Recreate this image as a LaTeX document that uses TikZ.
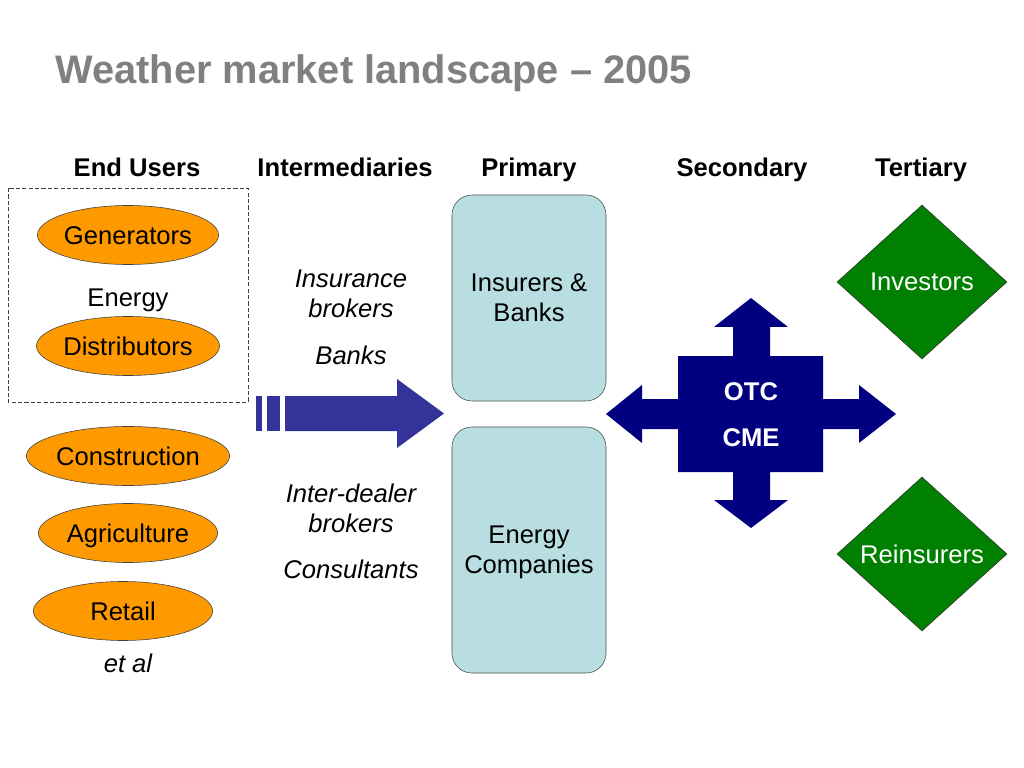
\documentclass[tikz,border=0pt]{standalone}
\usepackage{fontspec}
\setmainfont{Liberation Sans}
\usepackage{tikz}
\usetikzlibrary{positioning,calc,shapes}

\definecolor{titlegray}{RGB}{128,128,128}
\definecolor{userorange}{RGB}{255,153,0}
\definecolor{primblue}{RGB}{184,222,226}
\definecolor{flowblue}{RGB}{51,51,153}
\definecolor{crossnavy}{RGB}{0,0,128}
\definecolor{tertgreen}{RGB}{0,128,0}

\tikzset{
  title/.style={anchor=base west,inner sep=0pt,text=titlegray,font=\fontsize{28}{32}\selectfont\bfseries},
  heading/.style={inner sep=0pt,text height=12.9pt,text depth=0pt,font=\fontsize{18}{21}\selectfont\bfseries},
  body/.style={inner sep=0pt,text height=12.9pt,text depth=0pt,font=\fontsize{18}{21}\selectfont},
  broker/.style={anchor=base,inner sep=0pt,align=center,font=\fontsize{18}{20.5}\selectfont\itshape},
  enduser/.style={ellipse,draw=black!75,fill=userorange,minimum width=126pt,minimum height=41.5pt,
    inner sep=0pt,text height=12.9pt,text depth=0pt,font=\fontsize{18}{21}\selectfont},
  energybox/.style={draw=black!75,line width=0.6pt,dash pattern=on 3pt off 1.5pt},
  primary/.style={rectangle,rounded corners=14pt,draw=black!70,fill=primblue,minimum width=108.3pt,
    align=center,text depth=0pt,font=\fontsize{18}{21}\selectfont},
  tertiary/.style={diamond,draw=black!80,fill=tertgreen,text=white,minimum width=119.5pt,
    minimum height=108.3pt,inner sep=0pt,font=\fontsize{18}{21}\selectfont}
}

\begin{document}
\begin{tikzpicture}[x=0.703125pt,y=-0.703125pt]
\useasboundingbox (0,0) rectangle (1024,768);

% Title
\node[title] (title) at (55,84) {Weather market landscape \textendash{} 2005};

% Column headings
\foreach \x/\name/\label in {137/eu/End Users, 345/int/Intermediaries, 529/pri/Primary, 742/sec/Secondary, 921/ter/Tertiary}
    \node[heading] (h-\name) at (\x,167) {\label};

% End users
\draw[energybox] (8,188) rectangle (248,402);
\node[enduser] (gen) at (128,235) {Generators};
\node[body] (energy) at (128,297) {Energy};
\node[enduser] (dist) at (128,346) {Distributors};
\foreach \name/\x/\y/\label in {con/128/456/Construction, agr/128/533/Agriculture, ret/123/611/Retail}
    \node[enduser] (\name) at (\x,\y) {\label};
\node[body,font=\fontsize{18}{21}\selectfont\itshape] (etal) at (128,663) {et al};

% Intermediaries
\node[broker] (insbrk) at (351,317) {Insurance\\brokers};
\node[broker] (banks) at (351,364) {Banks};
\node[broker] (idbrk) at (351,532) {Inter-dealer\\brokers};
\node[broker] (cons) at (351,578) {Consultants};

% Flow arrow
\fill[flowblue] (256,396) rectangle (262,431);
\fill[flowblue] (267,396) rectangle (280,431);
\fill[flowblue] (285,396) -- (397,396) -- (397,379) -- (444,413.5) -- (397,448) -- (397,431) -- (285,431) -- cycle;

% Primary
\node[primary,minimum height=144.8pt] (insb) at (529,298) {Insurers \&\\Banks};
\node[primary,minimum height=173pt] (enco) at (529,550) {Energy\\Companies};

% Secondary cross
\fill[crossnavy] (751,298) -- (788,327) -- (770,327) -- (770,356) -- (823,356) -- (823,399)
    -- (859,399) -- (859,385) -- (896,414) -- (859,443) -- (859,429) -- (823,429) -- (823,472)
    -- (770,472) -- (770,500) -- (788,500) -- (751,528) -- (714,500) -- (733,500) -- (733,472)
    -- (678,472) -- (678,429) -- (642,429) -- (642,443) -- (606,414) -- (642,385) -- (642,399)
    -- (678,399) -- (678,356) -- (733,356) -- (733,327) -- (714,327) -- cycle;
\node[heading,text=white] (otc) at (751,391) {OTC};
\node[heading,text=white] (cme) at (751,437) {CME};

% Tertiary
\node[tertiary] (inv) at (922,282) {Investors};
\node[tertiary] (reins) at (922,554) {Reinsurers};
\end{tikzpicture}
\end{document}
